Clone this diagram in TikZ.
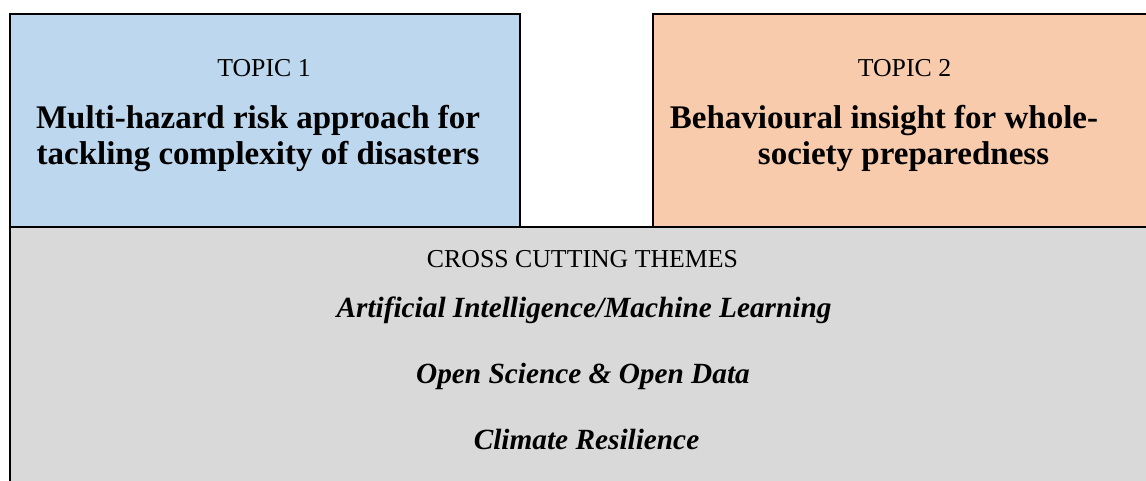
\documentclass[tikz,border=0pt]{standalone}
\usepackage{fontspec}
\setmainfont{Liberation Serif}
\definecolor{topicblue}{HTML}{BDD7EE}
\definecolor{topicpeach}{HTML}{F8CBAD}
\definecolor{themegray}{HTML}{D9D9D9}
\begin{document}
\begin{tikzpicture}[x=1pt,y=-1pt,
  edge/.style={line width=2pt,black},
  label/.style={anchor=base,inner sep=0pt,font=\fontsize{25.8}{30}\selectfont},
  heading/.style={anchor=base,inner sep=0pt,font=\fontsize{33}{36}\selectfont\bfseries},
  theme/.style={anchor=base,inner sep=0pt,font=\fontsize{29.3}{34}\selectfont\bfseries\itshape}]
\useasboundingbox (0,0) rectangle (1146,481);
\clip (0,0) rectangle (1146,481);
% boxes
\fill[themegray] (10,227) rectangle (1160,490);
\fill[topicblue] (10,14) rectangle (520,227);
\fill[topicpeach] (653,14) rectangle (1160,227);
\draw[edge] (10,14) rectangle (520,227);
\draw[edge] (1160,14) -- (653,14) -- (653,227);
\draw[edge] (10,490) -- (10,227) -- (1160,227);
% topic 1
\node[label] (t1) at (264,76.7) {TOPIC 1};
\node[heading] (t1a) at (258,129) {Multi-hazard risk approach for};
\node[heading] (t1b) at (258,165) {tackling complexity of disasters};
% topic 2
\node[label] (t2) at (904.5,77) {TOPIC 2};
\node[heading] (t2a) at (884,129) {Behavioural insight for whole-};
\node[heading] (t2b) at (903.5,165) {society preparedness};
% cross cutting
\node[label] (cc) at (582.5,268) {CROSS CUTTING THEMES};
\node[theme] (ai) at (584,317) {Artificial Intelligence/Machine Learning};
\node[theme] (os) at (583,383) {Open Science \& Open Data};
\node[theme] (cr) at (586.5,449) {Climate Resilience};
\end{tikzpicture}
\end{document}
